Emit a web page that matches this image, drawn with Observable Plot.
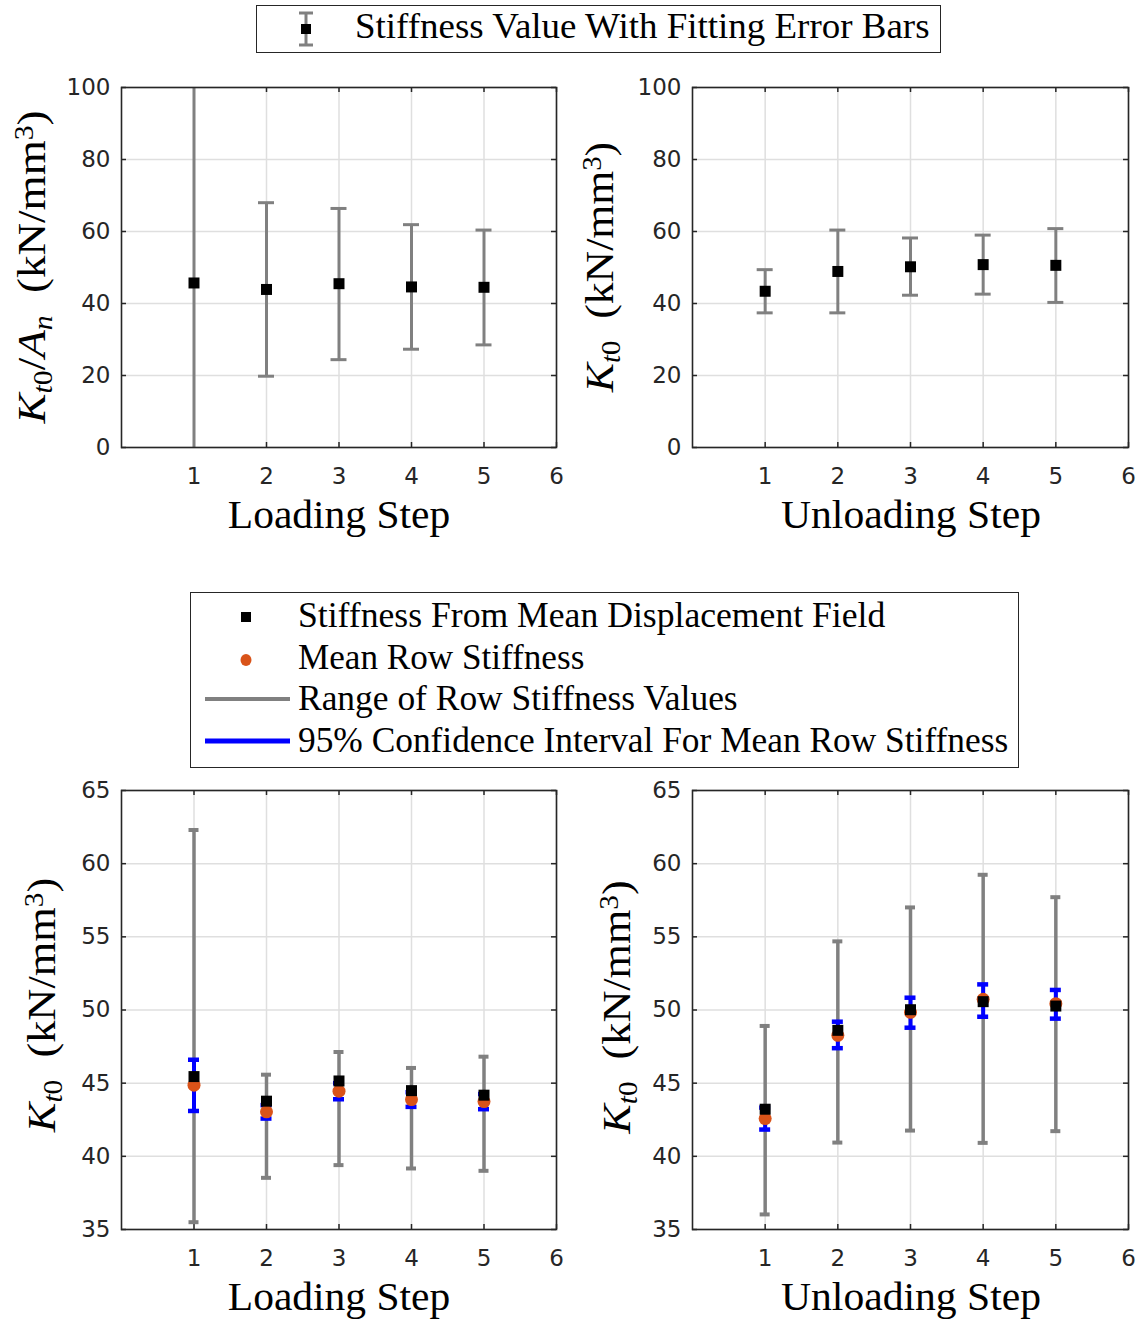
<!DOCTYPE html>
<html>
<head>
<meta charset="utf-8">
<script src="https://cdn.jsdelivr.net/npm/d3@7"></script>
<script src="https://cdn.jsdelivr.net/npm/@observablehq/plot@0.6"></script>
<style>
  html, body { margin: 0; padding: 0; background: #fff; }
  #page { position: relative; width: 1145px; height: 1322px; background: #fff; overflow: hidden; }
  .panel { position: absolute; }
  .lbl { position: absolute; white-space: nowrap; line-height: 1; font-family: "Liberation Serif", "Times New Roman", serif; color: #000; }
  .sb { font-size: 0.66em; position: relative; top: 0.25em; }
  .sp { font-size: 0.66em; position: relative; top: -0.45em; }
  .legbox { position: absolute; border: 1.5px solid #262626; background: #fff; box-sizing: border-box; }
  .icon { position: absolute; overflow: visible; }
</style>
</head>
<body>
<div id="page"></div>
<script>
// ---------------- data ----------------
const steps = [1, 2, 3, 4, 5];
const xTicks = [1, 2, 3, 4, 5, 6];
const yTicksFit = [0, 20, 40, 60, 80, 100];
const yTicksRow = [35, 40, 45, 50, 55, 60, 65];

// top-left: loading step, stiffness with fitting error bars
const loadFitValue = [45.7, 43.9, 45.5, 44.6, 44.5];
const loadFitLow   = [-14.3, 19.8, 24.4, 27.3, 28.5];
const loadFitHigh  = [105.7, 68.0, 66.4, 61.9, 60.4];

// top-right: unloading step
const unloadFitValue = [43.4, 48.9, 50.2, 50.8, 50.6];
const unloadFitLow   = [37.4, 37.4, 42.3, 42.6, 40.3];
const unloadFitHigh  = [49.4, 60.4, 58.2, 59.0, 60.8];

// bottom-left: loading step, row statistics
const loadMeanField = [45.45, 43.77, 45.15, 44.49, 44.18];
const loadMeanRow   = [44.86, 43.04, 44.45, 43.88, 43.74];
const loadRowMin    = [35.5, 38.53, 39.4, 39.17, 39.01];
const loadRowMax    = [62.3, 45.58, 47.13, 46.04, 46.81];
const loadCILow     = [43.1, 42.58, 43.9, 43.38, 43.22];
const loadCIHigh    = [46.6, 43.5, 45.0, 44.38, 44.26];

// bottom-right: unloading step, row statistics
const unloadMeanField = [43.22, 48.61, 50.02, 50.57, 50.27];
const unloadMeanRow   = [42.58, 48.27, 49.84, 50.73, 50.43];
const unloadRowMin    = [36.03, 40.94, 41.76, 40.92, 41.72];
const unloadRowMax    = [48.91, 54.69, 57.01, 59.24, 57.71];
const unloadCILow     = [41.83, 47.39, 48.79, 49.54, 49.41];
const unloadCIHigh    = [43.33, 49.2, 50.84, 51.75, 51.37];

// ---------------- styles ----------------
const GRAY = "#808080", BLUE = "#0000ff", ORANGE = "#D95319", AXIS = "#262626", GRID = "#dfdfdf";

const page = document.getElementById("page");

function fitTable(value, lo, hi) {
  return steps.map((s, i) => ({step: s, value: value[i], lo: lo[i], hi: hi[i]}));
}
function rowTable(field, mean, rmin, rmax, cilo, cihi) {
  return steps.map((s, i) => ({step: s, field: field[i], mean: mean[i], rmin: rmin[i], rmax: rmax[i], cilo: cilo[i], cihi: cihi[i]}));
}

function frameMarks(yTicks, W, H) {
  return [
    Plot.gridX(xTicks, {stroke: GRID, strokeOpacity: 1, strokeWidth: 1.5}),
    Plot.gridY(yTicks, {stroke: GRID, strokeOpacity: 1, strokeWidth: 1.5}),
    Plot.axisX(xTicks, {tickSize: 0, tickPadding: 20, label: null, fill: AXIS, fontSize: 23}),
    Plot.axisY(yTicks, {tickSize: 0, tickPadding: 11, label: null, fill: AXIS, fontSize: 23}),
    // inward tick marks (left, right, bottom, top)
    Plot.ruleY(yTicks, {y: d => d, stroke: AXIS, strokeWidth: 1.5, insetRight: W - 5}),
    Plot.ruleY(yTicks, {y: d => d, stroke: AXIS, strokeWidth: 1.5, insetLeft: W - 5}),
    Plot.ruleX(xTicks, {x: d => d, stroke: AXIS, strokeWidth: 1.5, insetTop: H - 5}),
    Plot.ruleX(xTicks, {x: d => d, stroke: AXIS, strokeWidth: 1.5, insetBottom: H - 5})
  ];
}

function makePanel({left, top, W, H, mTop, yDomain, yTicks, marks}) {
  const mL = 121, mR = 14, mB = 50;
  const svg = Plot.plot({
    width: mL + W + mR,
    height: mTop + H + mB,
    marginLeft: mL, marginRight: mR, marginTop: mTop, marginBottom: mB,
    x: {domain: [0, 6]},
    y: {domain: yDomain},
    style: {fontFamily: "'DejaVu Sans', 'Liberation Sans', sans-serif", fontSize: "23px", color: AXIS, background: "transparent", overflow: "visible"},
    marks: [
      ...frameMarks(yTicks, W, H),
      ...marks,
      Plot.frame({stroke: AXIS, strokeWidth: 1.6})
    ]
  });
  const wrap = document.createElement("div");
  wrap.className = "panel";
  wrap.style.left = left + "px";
  wrap.style.top = top + "px";
  wrap.appendChild(svg);
  page.appendChild(wrap);
}

function fitMarks(data) {
  return [
    Plot.ruleX(data, {x: "step", y1: "lo", y2: "hi", stroke: GRAY, strokeWidth: 3, clip: true}),
    Plot.ruleY(data.filter(d => d.hi <= 100), {y: "hi", x1: "step", x2: "step", insetLeft: -8, insetRight: -8, stroke: GRAY, strokeWidth: 3}),
    Plot.ruleY(data.filter(d => d.lo >= 0), {y: "lo", x1: "step", x2: "step", insetLeft: -8, insetRight: -8, stroke: GRAY, strokeWidth: 3}),
    Plot.dot(data, {x: "step", y: "value", symbol: "square", r: 6.2, fill: "#000", stroke: "none"})
  ];
}

function rowMarks(data) {
  const cap = (y, color, w, sw) => Plot.ruleY(data, {y, x1: "step", x2: "step", insetLeft: -w, insetRight: -w, stroke: color, strokeWidth: sw});
  return [
    Plot.ruleX(data, {x: "step", y1: "rmin", y2: "rmax", stroke: GRAY, strokeWidth: 3.5}),
    cap("rmin", GRAY, 5, 4), cap("rmax", GRAY, 5, 4),
    Plot.ruleX(data, {x: "step", y1: "cilo", y2: "cihi", stroke: BLUE, strokeWidth: 4}),
    cap("cilo", BLUE, 5.5, 4.5), cap("cihi", BLUE, 5.5, 4.5),
    Plot.dot(data, {x: "step", y: "mean", r: 6.5, fill: ORANGE, stroke: "none"}),
    Plot.dot(data, {x: "step", y: "field", symbol: "square", r: 6.2, fill: "#000", stroke: "none"})
  ];
}

makePanel({left: 0, top: 70, W: 435, H: 360, mTop: 17, yDomain: [0, 100], yTicks: yTicksFit,
  marks: fitMarks(fitTable(loadFitValue, loadFitLow, loadFitHigh))});
makePanel({left: 571, top: 70, W: 436, H: 360, mTop: 17, yDomain: [0, 100], yTicks: yTicksFit,
  marks: fitMarks(fitTable(unloadFitValue, unloadFitLow, unloadFitHigh))});
makePanel({left: 0, top: 770, W: 435, H: 439, mTop: 20, yDomain: [35, 65], yTicks: yTicksRow,
  marks: rowMarks(rowTable(loadMeanField, loadMeanRow, loadRowMin, loadRowMax, loadCILow, loadCIHigh))});
makePanel({left: 571, top: 770, W: 436, H: 439, mTop: 20, yDomain: [35, 65], yTicks: yTicksRow,
  marks: rowMarks(rowTable(unloadMeanField, unloadMeanRow, unloadRowMin, unloadRowMax, unloadCILow, unloadCIHigh))});

// ---------------- text labels ----------------
function addLabel(html, {x, y, width, size, rotate = 0, anchor = "middle"}) {
  const el = document.createElement("div");
  el.className = "lbl";
  el.innerHTML = html;
  el.style.fontSize = size + "px";
  el.style.left = x + "px";
  el.style.top = y + "px";
  page.appendChild(el);
  const w0 = el.offsetWidth;
  const s = width / w0;
  if (anchor === "start") {
    el.style.transformOrigin = "0 50%";
    el.style.transform = `translate(0,-50%) scaleX(${s})`;
  } else {
    el.style.transform = `translate(-50%,-50%) rotate(${rotate}deg) scaleX(${s})`;
  }
  return el;
}

const yLabelFit = '<i>K</i><span class="sb"><i>t</i>0</span>/<i>A</i><span class="sb"><i>n</i></span>&ensp;(kN/mm<span class="sp">3</span>)';
const yLabelRow = '<i>K</i><span class="sb"><i>t</i>0</span>&ensp;(kN/mm<span class="sp">3</span>)';

addLabel("Loading Step",   {x: 339, y: 514.5, width: 222, size: 40});
addLabel("Unloading Step", {x: 911, y: 514.5, width: 260, size: 40});
addLabel("Loading Step",   {x: 339, y: 1296.5, width: 222, size: 40});
addLabel("Unloading Step", {x: 911, y: 1296.5, width: 260, size: 40});

addLabel(yLabelFit, {x: 31.5, y: 267, width: 313, size: 40, rotate: -90});
addLabel(yLabelRow, {x: 599.5, y: 266.5, width: 250, size: 40, rotate: -90});
addLabel(yLabelRow, {x: 41.5, y: 1005, width: 254, size: 40, rotate: -90});
addLabel(yLabelRow, {x: 616.5, y: 1006.5, width: 253, size: 40, rotate: -90});

// ---------------- legends ----------------
function addBox(x, y, w, h) {
  const b = document.createElement("div");
  b.className = "legbox";
  Object.assign(b.style, {left: x + "px", top: y + "px", width: w + "px", height: h + "px"});
  page.appendChild(b);
}
function addIcon(svgInner, x, y, w, h) {
  const s = document.createElementNS("http://www.w3.org/2000/svg", "svg");
  s.setAttribute("class", "icon");
  s.setAttribute("width", w); s.setAttribute("height", h);
  s.style.left = x + "px"; s.style.top = y + "px";
  s.innerHTML = svgInner;
  page.appendChild(s);
}

// legend 1
addBox(256, 5, 685, 48);
addIcon(`<line x1="10" y1="3" x2="10" y2="35" stroke="${GRAY}" stroke-width="3"/>
  <line x1="3" y1="3" x2="17" y2="3" stroke="${GRAY}" stroke-width="3"/>
  <line x1="3" y1="35" x2="17" y2="35" stroke="${GRAY}" stroke-width="3"/>
  <rect x="5" y="14" width="10" height="10" fill="#000"/>`, 296, 10, 20, 40);
addLabel("Stiffness Value With Fitting Error Bars", {x: 355, y: 26, width: 575, size: 36, anchor: "start"});

// legend 2
addBox(190, 592, 829, 176);
addIcon(`<rect x="41" y="10" width="10" height="10" fill="#000"/>`, 200, 602, 100, 30);
addIcon(`<ellipse cx="46" cy="15" rx="5.5" ry="6" fill="${ORANGE}"/>`, 200, 645, 100, 30);
addIcon(`<line x1="5" y1="15" x2="90" y2="15" stroke="${GRAY}" stroke-width="4"/>`, 200, 684, 100, 30);
addIcon(`<line x1="5" y1="15" x2="90" y2="15" stroke="${BLUE}" stroke-width="5"/>`, 200, 726, 100, 30);
addLabel("Stiffness From Mean Displacement Field", {x: 298, y: 615, width: 587, size: 36, anchor: "start"});
addLabel("Mean Row Stiffness", {x: 298, y: 656.5, width: 286, size: 36, anchor: "start"});
addLabel("Range of Row Stiffness Values", {x: 298, y: 698, width: 440, size: 36, anchor: "start"});
addLabel("95% Confidence Interval For Mean Row Stiffness", {x: 298, y: 739.5, width: 710, size: 36, anchor: "start"});
</script>
</body>
</html>
